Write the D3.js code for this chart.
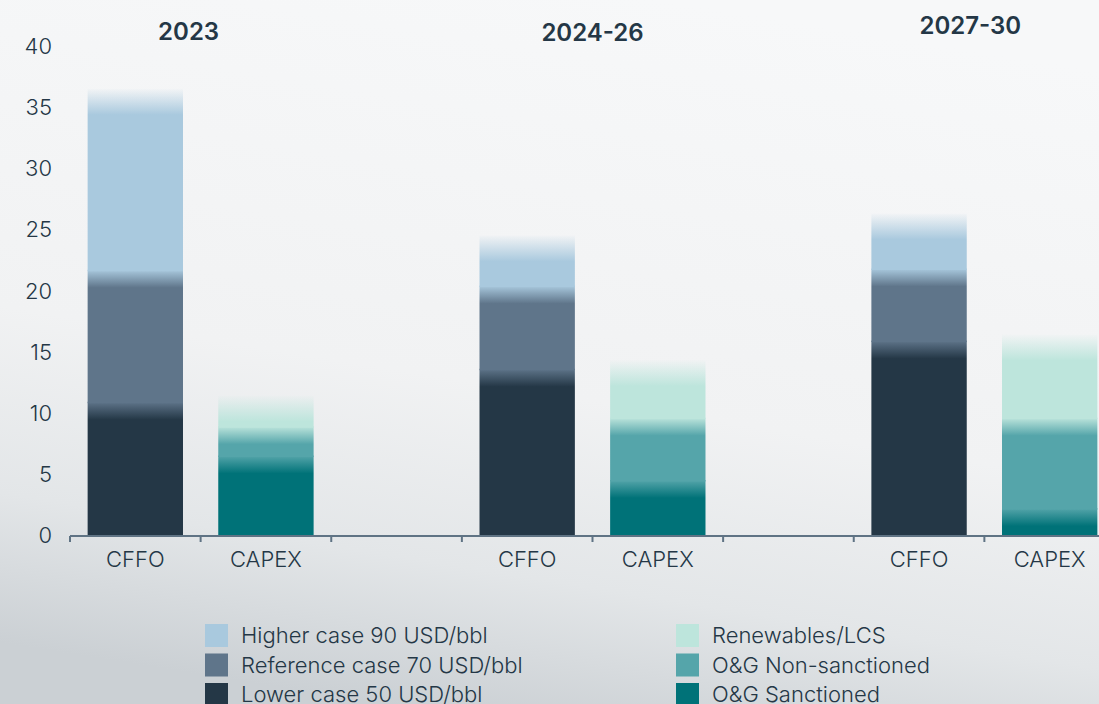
<!DOCTYPE html>
<html>
<head>
<meta charset="utf-8">
<script src="https://cdn.jsdelivr.net/npm/d3@7"></script>
<style>
  html, body { margin: 0; padding: 0; }
  body { width: 1099px; height: 704px; overflow: hidden; }
  svg { display: block; font-family: Inter, "Open Sans", sans-serif; }
</style>
</head>
<body>
<svg id="chart" width="1099" height="704"></svg>
<script>
// ---- data ----
const periods = ["2023", "2024-26", "2027-30"];
const barTypes = ["CFFO", "CAPEX"];
const yTicks = [0, 5, 10, 15, 20, 25, 30, 35, 40];

// CFFO stack (bottom -> top), values per period
const cffoLower = [10.9, 13.6, 15.9];
const cffoReference = [10.8, 6.8, 5.9];
const cffoHigher = [14.8, 4.1, 4.5];

// CAPEX stack (bottom -> top), values per period
const capexSanctioned = [6.5, 4.5, 2.2];
const capexNonSanctioned = [2.4, 5.1, 7.4];
const capexRenewables = [2.5, 4.7, 6.8];

const legendLeft = ["Higher case 90 USD/bbl", "Reference case 70 USD/bbl", "Lower case 50 USD/bbl"];
const legendRight = ["Renewables/LCS", "O&G Non-sanctioned", "O&G Sanctioned"];

// ---- styles ----
const colLower = "#243746", colRef = "#5f758a", colHigher = "#a9c9de";
const colSanc = "#007278", colNonSanc = "#55a5aa", colRenew = "#bde5dc";
const textCol = "#243746", axisCol = "#5f7384";

const svg = d3.select("#chart");
const W = 1099, H = 704;
const defs = svg.append("defs");

// background
const bg = defs.append("linearGradient").attr("id", "bg")
  .attr("x1", "0.6").attr("y1", "0").attr("x2", "0.35").attr("y2", "1");
bg.append("stop").attr("offset", 0).attr("stop-color", "#f7f8f9");
bg.append("stop").attr("offset", 0.55).attr("stop-color", "#f1f2f3");
bg.append("stop").attr("offset", 0.8).attr("stop-color", "#e3e6e8");
bg.append("stop").attr("offset", 1).attr("stop-color", "#cbd0d4");
svg.append("rect").attr("width", W).attr("height", H).attr("fill", "url(#bg)");

// ---- scales ----
const slots = [];
periods.forEach((p, i) => {
  barTypes.forEach(b => slots.push(p + "|" + b));
  if (i < periods.length - 1) slots.push(p + "|gap");
});
const x = d3.scaleBand().domain(slots).range([70, 1115]).paddingInner(0.27).paddingOuter(0.135);
const y = d3.scaleLinear().domain([0, 40]).range([535, 46]);

// ---- stacked bars ----
const cffoSeries = [
  { vals: cffoLower, color: colLower },
  { vals: cffoReference, color: colRef },
  { vals: cffoHigher, color: colHigher }
];
const capexSeries = [
  { vals: capexSanctioned, color: colSanc },
  { vals: capexNonSanctioned, color: colNonSanc },
  { vals: capexRenewables, color: colRenew }
];

let gid = 0;
function drawStack(series, type) {
  periods.forEach((p, pi) => {
    const key = p + "|" + type;
    const bx = x(key), bw = x.bandwidth();
    let base = 0;
    series.forEach((s, si) => {
      const v = s.vals[pi];
      const y0 = y(base), y1 = y(base + v);
      const h = y0 - y1;
      const isTop = si === series.length - 1;
      const fade = isTop ? 26 : 18;
      const id = "g" + (gid++);
      // extend non-bottom segments 1.5px downward to hide seams
      const ext = si === 0 ? 0 : 1.5;
      const hh = h + ext;
      const g = defs.append("linearGradient").attr("id", id)
        .attr("x1", 0).attr("y1", 1).attr("x2", 0).attr("y2", 0);
      const f = Math.max(0, 1 - fade / hh);
      g.append("stop").attr("offset", 0).attr("stop-color", s.color);
      g.append("stop").attr("offset", f).attr("stop-color", s.color);
      if (isTop) {
        g.append("stop").attr("offset", 1).attr("stop-color", s.color).attr("stop-opacity", 0.03);
      } else {
        g.append("stop").attr("offset", 1).attr("stop-color", series[si + 1].color);
      }
      svg.append("rect")
        .attr("x", bx).attr("width", bw)
        .attr("y", y1).attr("height", hh)
        .attr("fill", "url(#" + id + ")");
      base += v;
    });
  });
}
drawStack(cffoSeries, "CFFO");
drawStack(capexSeries, "CAPEX");

// ---- x axis ----
const gap = (x.step() - x.bandwidth()) / 2;
svg.append("line").attr("x1", 70).attr("x2", W).attr("y1", 536).attr("y2", 536)
  .attr("stroke", axisCol).attr("stroke-width", 2);
slots.forEach(k => {
  const bx = x(k) - gap;
  svg.append("line").attr("x1", bx).attr("x2", bx).attr("y1", 536).attr("y2", 542)
    .attr("stroke", axisCol).attr("stroke-width", 2);
});
slots.forEach(k => {
  const lab = k.split("|")[1];
  if (lab === "gap") return;
  svg.append("text").attr("x", x(k) + x.bandwidth() / 2).attr("y", 567)
    .attr("text-anchor", "middle").attr("fill", textCol)
    .attr("font-size", 22).attr("font-weight", 300).text(lab);
});

// ---- y axis labels ----
yTicks.forEach(t => {
  svg.append("text").attr("x", 52).attr("y", y(t))
    .attr("text-anchor", "end").attr("dominant-baseline", "central")
    .attr("fill", textCol).attr("font-size", 22).attr("font-weight", 300).text(t);
});

// ---- period titles ----
const titleDx = [-12, 0, -14], titleY = [40, 41, 34];
periods.forEach((p, i) => {
  const cx = (x(p + "|CFFO") + x(p + "|CAPEX") + x.bandwidth()) / 2;
  svg.append("text").attr("x", cx + titleDx[i]).attr("y", titleY[i])
    .attr("text-anchor", "middle").attr("fill", textCol)
    .attr("font-size", 24).attr("font-weight", 600).text(p);
});

// ---- legend ----
const legLeftCols = [colHigher, colRef, colLower];
const legRightCols = [colRenew, colNonSanc, colSanc];
function legendCol(labels, cols, lx) {
  labels.forEach((l, i) => {
    const ly = 624 + i * 29.5;
    svg.append("rect").attr("x", lx).attr("y", ly).attr("width", 23).attr("height", 23).attr("fill", cols[i]);
    svg.append("text").attr("x", lx + 36).attr("y", ly + 11).attr("dominant-baseline", "central")
      .attr("fill", textCol).attr("font-size", 22).attr("font-weight", 300).text(l);
  });
}
legendCol(legendLeft, legLeftCols, 205);
legendCol(legendRight, legRightCols, 676);
</script>
</body>
</html>
